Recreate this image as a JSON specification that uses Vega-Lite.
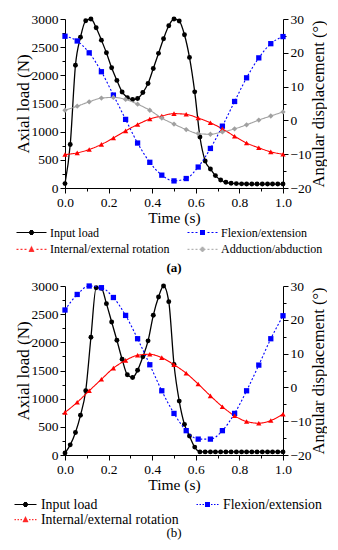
{
  "$schema": "https://vega.github.io/schema/vega-lite/v6.json",
  "padding": {"left": 14, "top": 12, "right": 0, "bottom": 0},
  "spacing": 4,
  "config": {
    "font": "Liberation Serif",
    "view": {"stroke": null},
    "axis": {"labelFont": "Liberation Serif", "titleFont": "Liberation Serif", "labelColor": "black", "titleColor": "black", "domainColor": "black", "tickColor": "black", "grid": false, "labelFontSize": 13.5, "titleFontWeight": "normal", "tickSize": 5, "labelPadding": 2, "domainWidth": 1, "tickWidth": 1, "labelOverlap": false, "labelFlush": false},
    "title": {"font": "Liberation Serif", "color": "black"}
  },
  "datasets": {
    "a": [
      {"series": "Input load", "t": 0, "v": 78}, {"series": "Input load", "t": 0.024, "v": 772}, {"series": "Input load", "t": 0.048, "v": 2180}, {"series": "Input load", "t": 0.071, "v": 2675}, {"series": "Input load", "t": 0.095, "v": 2970}, {"series": "Input load", "t": 0.119, "v": 3000}, {"series": "Input load", "t": 0.143, "v": 2845}, {"series": "Input load", "t": 0.167, "v": 2625}, {"series": "Input load", "t": 0.19, "v": 2400}, {"series": "Input load", "t": 0.214, "v": 2135}, {"series": "Input load", "t": 0.238, "v": 1910}, {"series": "Input load", "t": 0.262, "v": 1705}, {"series": "Input load", "t": 0.286, "v": 1605}, {"series": "Input load", "t": 0.31, "v": 1570}, {"series": "Input load", "t": 0.333, "v": 1590}, {"series": "Input load", "t": 0.357, "v": 1695}, {"series": "Input load", "t": 0.381, "v": 1855}, {"series": "Input load", "t": 0.405, "v": 2120}, {"series": "Input load", "t": 0.429, "v": 2390}, {"series": "Input load", "t": 0.452, "v": 2650}, {"series": "Input load", "t": 0.476, "v": 2880}, {"series": "Input load", "t": 0.5, "v": 3000}, {"series": "Input load", "t": 0.524, "v": 2965}, {"series": "Input load", "t": 0.548, "v": 2720}, {"series": "Input load", "t": 0.571, "v": 2318}, {"series": "Input load", "t": 0.595, "v": 1707}, {"series": "Input load", "t": 0.619, "v": 905}, {"series": "Input load", "t": 0.643, "v": 480}, {"series": "Input load", "t": 0.667, "v": 338}, {"series": "Input load", "t": 0.69, "v": 220}, {"series": "Input load", "t": 0.714, "v": 142}, {"series": "Input load", "t": 0.738, "v": 101}, {"series": "Input load", "t": 0.762, "v": 85}, {"series": "Input load", "t": 0.786, "v": 78}, {"series": "Input load", "t": 0.81, "v": 74}, {"series": "Input load", "t": 0.833, "v": 71}, {"series": "Input load", "t": 0.857, "v": 70}, {"series": "Input load", "t": 0.881, "v": 70}, {"series": "Input load", "t": 0.905, "v": 70}, {"series": "Input load", "t": 0.929, "v": 70}, {"series": "Input load", "t": 0.952, "v": 70}, {"series": "Input load", "t": 0.976, "v": 70}, {"series": "Input load", "t": 1, "v": 70},
      {"series": "Flexion/extension", "t": 0, "v": 24.9}, {"series": "Flexion/extension", "t": 0.056, "v": 23.5}, {"series": "Flexion/extension", "t": 0.111, "v": 20.0}, {"series": "Flexion/extension", "t": 0.167, "v": 14.4}, {"series": "Flexion/extension", "t": 0.222, "v": 7.5}, {"series": "Flexion/extension", "t": 0.278, "v": 0.3}, {"series": "Flexion/extension", "t": 0.333, "v": -6.7}, {"series": "Flexion/extension", "t": 0.389, "v": -12.4}, {"series": "Flexion/extension", "t": 0.444, "v": -16.2}, {"series": "Flexion/extension", "t": 0.5, "v": -17.9}, {"series": "Flexion/extension", "t": 0.556, "v": -17.2}, {"series": "Flexion/extension", "t": 0.611, "v": -13.8}, {"series": "Flexion/extension", "t": 0.667, "v": -8.3}, {"series": "Flexion/extension", "t": 0.722, "v": -1.7}, {"series": "Flexion/extension", "t": 0.778, "v": 5.6}, {"series": "Flexion/extension", "t": 0.833, "v": 12.6}, {"series": "Flexion/extension", "t": 0.889, "v": 18.5}, {"series": "Flexion/extension", "t": 0.944, "v": 22.7}, {"series": "Flexion/extension", "t": 1, "v": 24.8},
      {"series": "Internal/external rotation", "t": 0, "v": -10.1}, {"series": "Internal/external rotation", "t": 0.056, "v": -9.6}, {"series": "Internal/external rotation", "t": 0.111, "v": -8.6}, {"series": "Internal/external rotation", "t": 0.167, "v": -7.1}, {"series": "Internal/external rotation", "t": 0.222, "v": -5.2}, {"series": "Internal/external rotation", "t": 0.278, "v": -3.1}, {"series": "Internal/external rotation", "t": 0.333, "v": -1.2}, {"series": "Internal/external rotation", "t": 0.389, "v": 0.4}, {"series": "Internal/external rotation", "t": 0.444, "v": 1.3}, {"series": "Internal/external rotation", "t": 0.5, "v": 2.0}, {"series": "Internal/external rotation", "t": 0.556, "v": 1.8}, {"series": "Internal/external rotation", "t": 0.611, "v": 0.7}, {"series": "Internal/external rotation", "t": 0.667, "v": -0.7}, {"series": "Internal/external rotation", "t": 0.722, "v": -2.5}, {"series": "Internal/external rotation", "t": 0.778, "v": -4.7}, {"series": "Internal/external rotation", "t": 0.833, "v": -6.7}, {"series": "Internal/external rotation", "t": 0.889, "v": -8.1}, {"series": "Internal/external rotation", "t": 0.944, "v": -9.3}, {"series": "Internal/external rotation", "t": 1, "v": -10.0},
      {"series": "Adduction/abduction", "t": 0, "v": 3.0}, {"series": "Adduction/abduction", "t": 0.056, "v": 4.2}, {"series": "Adduction/abduction", "t": 0.111, "v": 5.5}, {"series": "Adduction/abduction", "t": 0.167, "v": 6.6}, {"series": "Adduction/abduction", "t": 0.222, "v": 6.8}, {"series": "Adduction/abduction", "t": 0.278, "v": 6.2}, {"series": "Adduction/abduction", "t": 0.333, "v": 4.8}, {"series": "Adduction/abduction", "t": 0.389, "v": 3.0}, {"series": "Adduction/abduction", "t": 0.444, "v": 0.7}, {"series": "Adduction/abduction", "t": 0.5, "v": -1.1}, {"series": "Adduction/abduction", "t": 0.556, "v": -2.7}, {"series": "Adduction/abduction", "t": 0.611, "v": -3.9}, {"series": "Adduction/abduction", "t": 0.667, "v": -4.1}, {"series": "Adduction/abduction", "t": 0.722, "v": -3.4}, {"series": "Adduction/abduction", "t": 0.778, "v": -2.5}, {"series": "Adduction/abduction", "t": 0.833, "v": -1.3}, {"series": "Adduction/abduction", "t": 0.889, "v": 0.1}, {"series": "Adduction/abduction", "t": 0.944, "v": 1.3}, {"series": "Adduction/abduction", "t": 1, "v": 2.5}
    ],
    "b": [
      {"series": "Input load", "t": 0, "v": 35}, {"series": "Input load", "t": 0.024, "v": 180}, {"series": "Input load", "t": 0.048, "v": 400}, {"series": "Input load", "t": 0.071, "v": 705}, {"series": "Input load", "t": 0.095, "v": 1140}, {"series": "Input load", "t": 0.119, "v": 2090}, {"series": "Input load", "t": 0.143, "v": 2970}, {"series": "Input load", "t": 0.167, "v": 2960}, {"series": "Input load", "t": 0.19, "v": 2687}, {"series": "Input load", "t": 0.214, "v": 2362}, {"series": "Input load", "t": 0.238, "v": 2037}, {"series": "Input load", "t": 0.262, "v": 1700}, {"series": "Input load", "t": 0.286, "v": 1424}, {"series": "Input load", "t": 0.31, "v": 1376}, {"series": "Input load", "t": 0.333, "v": 1505}, {"series": "Input load", "t": 0.357, "v": 1742}, {"series": "Input load", "t": 0.381, "v": 2026}, {"series": "Input load", "t": 0.405, "v": 2480}, {"series": "Input load", "t": 0.429, "v": 2805}, {"series": "Input load", "t": 0.452, "v": 3000}, {"series": "Input load", "t": 0.476, "v": 2722}, {"series": "Input load", "t": 0.5, "v": 1606}, {"series": "Input load", "t": 0.524, "v": 957}, {"series": "Input load", "t": 0.548, "v": 544}, {"series": "Input load", "t": 0.571, "v": 337}, {"series": "Input load", "t": 0.595, "v": 140}, {"series": "Input load", "t": 0.619, "v": 55}, {"series": "Input load", "t": 0.643, "v": 55}, {"series": "Input load", "t": 0.667, "v": 55}, {"series": "Input load", "t": 0.69, "v": 55}, {"series": "Input load", "t": 0.714, "v": 55}, {"series": "Input load", "t": 0.738, "v": 55}, {"series": "Input load", "t": 0.762, "v": 55}, {"series": "Input load", "t": 0.786, "v": 55}, {"series": "Input load", "t": 0.81, "v": 55}, {"series": "Input load", "t": 0.833, "v": 55}, {"series": "Input load", "t": 0.857, "v": 55}, {"series": "Input load", "t": 0.881, "v": 55}, {"series": "Input load", "t": 0.905, "v": 55}, {"series": "Input load", "t": 0.929, "v": 55}, {"series": "Input load", "t": 0.952, "v": 55}, {"series": "Input load", "t": 0.976, "v": 55}, {"series": "Input load", "t": 1, "v": 55},
      {"series": "Flexion/extension", "t": 0, "v": 22.9}, {"series": "Flexion/extension", "t": 0.056, "v": 27.5}, {"series": "Flexion/extension", "t": 0.111, "v": 30.0}, {"series": "Flexion/extension", "t": 0.167, "v": 29.5}, {"series": "Flexion/extension", "t": 0.222, "v": 26.6}, {"series": "Flexion/extension", "t": 0.278, "v": 21.3}, {"series": "Flexion/extension", "t": 0.333, "v": 14.4}, {"series": "Flexion/extension", "t": 0.389, "v": 6.7}, {"series": "Flexion/extension", "t": 0.444, "v": -1.0}, {"series": "Flexion/extension", "t": 0.5, "v": -7.7}, {"series": "Flexion/extension", "t": 0.556, "v": -12.8}, {"series": "Flexion/extension", "t": 0.611, "v": -15.3}, {"series": "Flexion/extension", "t": 0.667, "v": -15.3}, {"series": "Flexion/extension", "t": 0.722, "v": -12.8}, {"series": "Flexion/extension", "t": 0.778, "v": -7.7}, {"series": "Flexion/extension", "t": 0.833, "v": -1.0}, {"series": "Flexion/extension", "t": 0.889, "v": 6.6}, {"series": "Flexion/extension", "t": 0.944, "v": 14.4}, {"series": "Flexion/extension", "t": 1, "v": 21.2},
      {"series": "Internal/external rotation", "t": 0, "v": -7.4}, {"series": "Internal/external rotation", "t": 0.056, "v": -4.4}, {"series": "Internal/external rotation", "t": 0.111, "v": -1.0}, {"series": "Internal/external rotation", "t": 0.167, "v": 2.4}, {"series": "Internal/external rotation", "t": 0.222, "v": 5.7}, {"series": "Internal/external rotation", "t": 0.278, "v": 8.0}, {"series": "Internal/external rotation", "t": 0.333, "v": 9.5}, {"series": "Internal/external rotation", "t": 0.389, "v": 9.8}, {"series": "Internal/external rotation", "t": 0.444, "v": 8.8}, {"series": "Internal/external rotation", "t": 0.5, "v": 6.7}, {"series": "Internal/external rotation", "t": 0.556, "v": 4.2}, {"series": "Internal/external rotation", "t": 0.611, "v": 1.0}, {"series": "Internal/external rotation", "t": 0.667, "v": -2.5}, {"series": "Internal/external rotation", "t": 0.722, "v": -5.7}, {"series": "Internal/external rotation", "t": 0.778, "v": -8.4}, {"series": "Internal/external rotation", "t": 0.833, "v": -10.1}, {"series": "Internal/external rotation", "t": 0.889, "v": -10.6}, {"series": "Internal/external rotation", "t": 0.944, "v": -9.8}, {"series": "Internal/external rotation", "t": 1, "v": -7.9}
    ]
  },
  "vconcat": [
    {
      "width": 218, "height": 169,
      "data": {"name": "a"},
      "title": {"text": "(a)", "orient": "bottom", "fontSize": 13, "fontWeight": "bold", "offset": 6},
      "layer": [
        {
          "transform": [{"filter": "datum.series === 'Input load'"}],
          "encoding": {
            "x": {"field": "t", "type": "quantitative", "scale": {"domain": [0, 1], "nice": false}, "axis": {"values": [0, 0.2, 0.4, 0.6, 0.8, 1], "format": ".1f", "title": "Time (s)", "titleFontSize": 15.5, "titlePadding": 2, "labelFont": "Liberation Serif"}},
            "y": {"field": "v", "type": "quantitative", "scale": {"domain": [0, 3000], "nice": false, "zero": false}, "axis": {"orient": "left", "values": [0, 500, 1000, 1500, 2000, 2500, 3000], "format": "d", "labelOverlap": false, "labelFont": "Liberation Serif", "title": "Axial load (N)", "titleFontSize": 17, "titlePadding": -1}}
          },
          "layer": [
            {"mark": {"type": "line", "color": "black", "strokeWidth": 1.3, "interpolate": "monotone"}},
            {"mark": {"type": "point", "shape": "circle", "filled": true, "color": "black", "size": 24, "opacity": 1}}
          ]
        },
        {
          "encoding": {"x": {"field": "t", "type": "quantitative", "scale": {"domain": [0, 1], "nice": false}, "axis": null}},
          "layer": [
            {
              "transform": [{"filter": "datum.series !== 'Input load'"}],
              "mark": {"type": "line", "strokeWidth": 1.1, "interpolate": "monotone"},
              "encoding": {
                "y": {"field": "v", "type": "quantitative", "scale": {"domain": [-20, 30], "nice": false, "zero": false}, "axis": {"orient": "right", "values": [-20, -10, 0, 10, 20, 30], "format": "d", "labelOverlap": false, "labelFont": "Liberation Serif", "title": "Angular displacement (°)", "titleFontSize": 16.5, "titleAngle": 270, "titleBaseline": "top", "titlePadding": -1}},
                "color": {"field": "series", "type": "nominal", "scale": {"domain": ["Flexion/extension", "Internal/external rotation", "Adduction/abduction"], "range": ["#0000ff", "#ff0000", "#a0a0a0"]}, "legend": null},
                "strokeDash": {"field": "series", "type": "nominal", "scale": {"domain": ["Flexion/extension", "Internal/external rotation", "Adduction/abduction"], "range": [[2, 2], [1, 0], [1, 0]]}, "legend": null}
              }
            },
            {
              "transform": [{"filter": "datum.series !== 'Input load'"}],
              "mark": {"type": "point", "filled": true, "opacity": 1, "size": 28},
              "encoding": {
                "y": {"field": "v", "type": "quantitative", "scale": {"domain": [-20, 30], "nice": false, "zero": false}, "axis": {"orient": "right", "values": [-20, -10, 0, 10, 20, 30], "format": "d", "labelOverlap": false, "labelFont": "Liberation Serif", "title": "Angular displacement (°)", "titleFontSize": 16.5, "titleAngle": 270, "titleBaseline": "top", "titlePadding": -1}},
                "color": {"field": "series", "type": "nominal", "scale": {"domain": ["Flexion/extension", "Internal/external rotation", "Adduction/abduction"], "range": ["#0000ff", "#ff0000", "#a0a0a0"]}, "legend": null},
                "shape": {"field": "series", "type": "nominal", "scale": {"domain": ["Flexion/extension", "Internal/external rotation", "Adduction/abduction"], "range": ["square", "triangle-up", "diamond"]}, "legend": null}
              }
            },
            {
              "transform": [{"filter": "datum.t === 0"}],
              "mark": {"type": "point", "filled": false, "opacity": 0},
              "encoding": {
                "color": {"field": "series", "type": "nominal", "scale": {"domain": ["Input load", "Flexion/extension", "Internal/external rotation", "Adduction/abduction"], "range": ["#000000", "#0000ff", "#ff0000", "#a0a0a0"]},
                  "legend": {"title": null, "orient": "none", "direction": "horizontal", "legendX": -49, "legendY": 207, "columns": 2, "columnPadding": 17, "rowPadding": 3.8, "clipHeight": 13, "labelFont": "Liberation Serif", "labelFontSize": 12, "labelColor": "black", "labelOffset": 3, "symbolSize": 900, "symbolStrokeWidth": 1, "symbolOpacity": 1}},
                "shape": {"field": "series", "type": "nominal", "scale": {"domain": ["Input load", "Flexion/extension", "Internal/external rotation", "Adduction/abduction"], "range": [
                  "M-1,0H1M-0.1,-0.133H0.1M-0.153,-0.067H0.153M-0.167,0H0.167M-0.153,0.067H0.153M-0.1,0.133H0.1",
                  "M-1,0H-0.867M-0.733,0H-0.6M-0.467,0H-0.333M0.333,0H0.467M0.6,0H0.733M0.867,0H1M-0.167,-0.133H0.167M-0.167,-0.067H0.167M-0.167,0H0.167M-0.167,0.067H0.167M-0.167,0.133H0.167",
                  "M-1,0H-0.867M-0.733,0H-0.6M-0.467,0H-0.333M0.333,0H0.467M0.6,0H0.733M0.867,0H1M-0.017,-0.2H0.017M-0.05,-0.133H0.05M-0.083,-0.067H0.083M-0.117,0H0.117M-0.15,0.067H0.15M-0.183,0.133H0.183",
                  "M-1,0H-0.867M-0.733,0H-0.6M-0.467,0H-0.333M0.333,0H0.467M0.6,0H0.733M0.867,0H1M-0.067,-0.133H0.067M-0.133,-0.067H0.133M-0.2,0H0.2M-0.133,0.067H0.133M-0.067,0.133H0.067"
                ]},
                  "legend": {"title": null, "orient": "none", "direction": "horizontal", "legendX": -49, "legendY": 207, "columns": 2, "columnPadding": 17, "rowPadding": 3.8, "clipHeight": 13, "labelFont": "Liberation Serif", "labelFontSize": 12, "labelColor": "black", "labelOffset": 3, "symbolSize": 900, "symbolStrokeWidth": 1, "symbolOpacity": 1}}
              }
            }
          ],
          "resolve": {"scale": {"color": "independent", "shape": "independent", "strokeDash": "independent"}}
        },
        {
          "transform": [{"filter": "datum.series === 'Input load' && datum.t === 0"}],
          "mark": {"type": "point", "opacity": 0},
          "encoding": {"y": {"field": "v", "type": "quantitative", "scale": {"domain": [0, 3000], "nice": false, "zero": false}, "axis": {"orient": "left", "values": [250, 750, 1250, 1750, 2250, 2750], "labels": false, "tickSize": 3, "domain": false, "title": null}}}
        },
        {
          "transform": [{"filter": "datum.series === 'Flexion/extension' && datum.t === 0"}],
          "mark": {"type": "point", "opacity": 0},
          "encoding": {"y": {"field": "v", "type": "quantitative", "scale": {"domain": [-20, 30], "nice": false, "zero": false}, "axis": {"orient": "right", "values": [-15, -5, 5, 15, 25], "labels": false, "tickSize": 3, "domain": false, "title": null}}}
        },
        {
          "transform": [{"filter": "datum.series === 'Input load' && datum.t === 0"}],
          "mark": {"type": "point", "opacity": 0},
          "encoding": {"x": {"field": "t", "type": "quantitative", "scale": {"domain": [0, 1], "nice": false}, "axis": {"orient": "bottom", "values": [0.1, 0.3, 0.5, 0.7, 0.9], "labels": false, "tickSize": 3, "domain": false, "title": null}}}
        }
      ],
      "resolve": {"scale": {"x": "independent", "y": "independent"}}
    },
    {
      "width": 218, "height": 169,
      "data": {"name": "b"},
      "title": {"text": "(b)", "orient": "bottom", "fontSize": 13, "fontWeight": "normal", "offset": 0},
      "layer": [
        {
          "transform": [{"filter": "datum.series === 'Input load'"}],
          "encoding": {
            "x": {"field": "t", "type": "quantitative", "scale": {"domain": [0, 1], "nice": false}, "axis": {"values": [0, 0.2, 0.4, 0.6, 0.8, 1], "format": ".1f", "title": "Time (s)", "titleFontSize": 15.5, "titlePadding": 2, "labelFont": "Liberation Serif"}},
            "y": {"field": "v", "type": "quantitative", "scale": {"domain": [0, 3000], "nice": false, "zero": false}, "axis": {"orient": "left", "values": [0, 500, 1000, 1500, 2000, 2500, 3000], "format": "d", "labelOverlap": false, "labelFont": "Liberation Serif", "title": "Axial load (N)", "titleFontSize": 17, "titlePadding": -1}}
          },
          "layer": [
            {"mark": {"type": "line", "color": "black", "strokeWidth": 1.3, "interpolate": "monotone"}},
            {"mark": {"type": "point", "shape": "circle", "filled": true, "color": "black", "size": 24, "opacity": 1}}
          ]
        },
        {
          "encoding": {"x": {"field": "t", "type": "quantitative", "scale": {"domain": [0, 1], "nice": false}, "axis": null}},
          "layer": [
            {
              "transform": [{"filter": "datum.series !== 'Input load'"}],
              "mark": {"type": "line", "strokeWidth": 1.1, "interpolate": "monotone"},
              "encoding": {
                "y": {"field": "v", "type": "quantitative", "scale": {"domain": [-20, 30], "nice": false, "zero": false}, "axis": {"orient": "right", "values": [-20, -10, 0, 10, 20, 30], "format": "d", "labelOverlap": false, "labelFont": "Liberation Serif", "title": "Angular displacement (°)", "titleFontSize": 16.5, "titleAngle": 270, "titleBaseline": "top", "titlePadding": -1}},
                "color": {"field": "series", "type": "nominal", "scale": {"domain": ["Flexion/extension", "Internal/external rotation"], "range": ["#0000ff", "#ff0000"]}, "legend": null},
                "strokeDash": {"field": "series", "type": "nominal", "scale": {"domain": ["Flexion/extension", "Internal/external rotation"], "range": [[2, 2], [1, 0]]}, "legend": null}
              }
            },
            {
              "transform": [{"filter": "datum.series !== 'Input load'"}],
              "mark": {"type": "point", "filled": true, "opacity": 1, "size": 28},
              "encoding": {
                "y": {"field": "v", "type": "quantitative", "scale": {"domain": [-20, 30], "nice": false, "zero": false}, "axis": {"orient": "right", "values": [-20, -10, 0, 10, 20, 30], "format": "d", "labelOverlap": false, "labelFont": "Liberation Serif", "title": "Angular displacement (°)", "titleFontSize": 16.5, "titleAngle": 270, "titleBaseline": "top", "titlePadding": -1}},
                "color": {"field": "series", "type": "nominal", "scale": {"domain": ["Flexion/extension", "Internal/external rotation"], "range": ["#0000ff", "#ff0000"]}, "legend": null},
                "shape": {"field": "series", "type": "nominal", "scale": {"domain": ["Flexion/extension", "Internal/external rotation"], "range": ["square", "triangle-up"]}, "legend": null}
              }
            },
            {
              "transform": [{"filter": "datum.t === 0"}],
              "mark": {"type": "point", "filled": false, "opacity": 0},
              "encoding": {
                "color": {"field": "series", "type": "nominal", "scale": {"domain": ["Input load", "Flexion/extension", "Internal/external rotation"], "range": ["#000000", "#0000ff", "#ff0000"]},
                  "legend": {"title": null, "orient": "none", "direction": "horizontal", "legendX": -51, "legendY": 211, "columns": 2, "columnPadding": 17, "rowPadding": 0.4, "clipHeight": 14.6, "labelFont": "Liberation Serif", "labelFontSize": 13.8, "labelColor": "black", "labelOffset": 4, "symbolSize": 484, "symbolStrokeWidth": 1, "symbolOpacity": 1}},
                "shape": {"field": "series", "type": "nominal", "scale": {"domain": ["Input load", "Flexion/extension", "Internal/external rotation"], "range": [
                  "M-1,0H1M-0.136,-0.182H0.136M-0.208,-0.091H0.208M-0.227,0H0.227M-0.208,0.091H0.208M-0.136,0.182H0.136",
                  "M-1,0H-0.864M-0.727,0H-0.591M-0.455,0H-0.318M0.318,0H0.455M0.591,0H0.727M0.864,0H1M-0.227,-0.182H0.227M-0.227,-0.091H0.227M-0.227,0H0.227M-0.227,0.091H0.227M-0.227,0.182H0.227",
                  "M-1,0H-0.864M-0.727,0H-0.591M-0.455,0H-0.318M0.318,0H0.455M0.591,0H0.727M0.864,0H1M-0.023,-0.273H0.023M-0.068,-0.182H0.068M-0.114,-0.091H0.114M-0.159,0H0.159M-0.205,0.091H0.205M-0.25,0.182H0.25"
                ]},
                  "legend": {"title": null, "orient": "none", "direction": "horizontal", "legendX": -51, "legendY": 211, "columns": 2, "columnPadding": 17, "rowPadding": 0.4, "clipHeight": 14.6, "labelFont": "Liberation Serif", "labelFontSize": 13.8, "labelColor": "black", "labelOffset": 4, "symbolSize": 484, "symbolStrokeWidth": 1, "symbolOpacity": 1}}
              }
            }
          ],
          "resolve": {"scale": {"color": "independent", "shape": "independent", "strokeDash": "independent"}}
        },
        {
          "transform": [{"filter": "datum.series === 'Input load' && datum.t === 0"}],
          "mark": {"type": "point", "opacity": 0},
          "encoding": {"y": {"field": "v", "type": "quantitative", "scale": {"domain": [0, 3000], "nice": false, "zero": false}, "axis": {"orient": "left", "values": [250, 750, 1250, 1750, 2250, 2750], "labels": false, "tickSize": 3, "domain": false, "title": null}}}
        },
        {
          "transform": [{"filter": "datum.series === 'Flexion/extension' && datum.t === 0"}],
          "mark": {"type": "point", "opacity": 0},
          "encoding": {"y": {"field": "v", "type": "quantitative", "scale": {"domain": [-20, 30], "nice": false, "zero": false}, "axis": {"orient": "right", "values": [-15, -5, 5, 15, 25], "labels": false, "tickSize": 3, "domain": false, "title": null}}}
        },
        {
          "transform": [{"filter": "datum.series === 'Input load' && datum.t === 0"}],
          "mark": {"type": "point", "opacity": 0},
          "encoding": {"x": {"field": "t", "type": "quantitative", "scale": {"domain": [0, 1], "nice": false}, "axis": {"orient": "bottom", "values": [0.1, 0.3, 0.5, 0.7, 0.9], "labels": false, "tickSize": 3, "domain": false, "title": null}}}
        }
      ],
      "resolve": {"scale": {"x": "independent", "y": "independent"}}
    }
  ]
}
